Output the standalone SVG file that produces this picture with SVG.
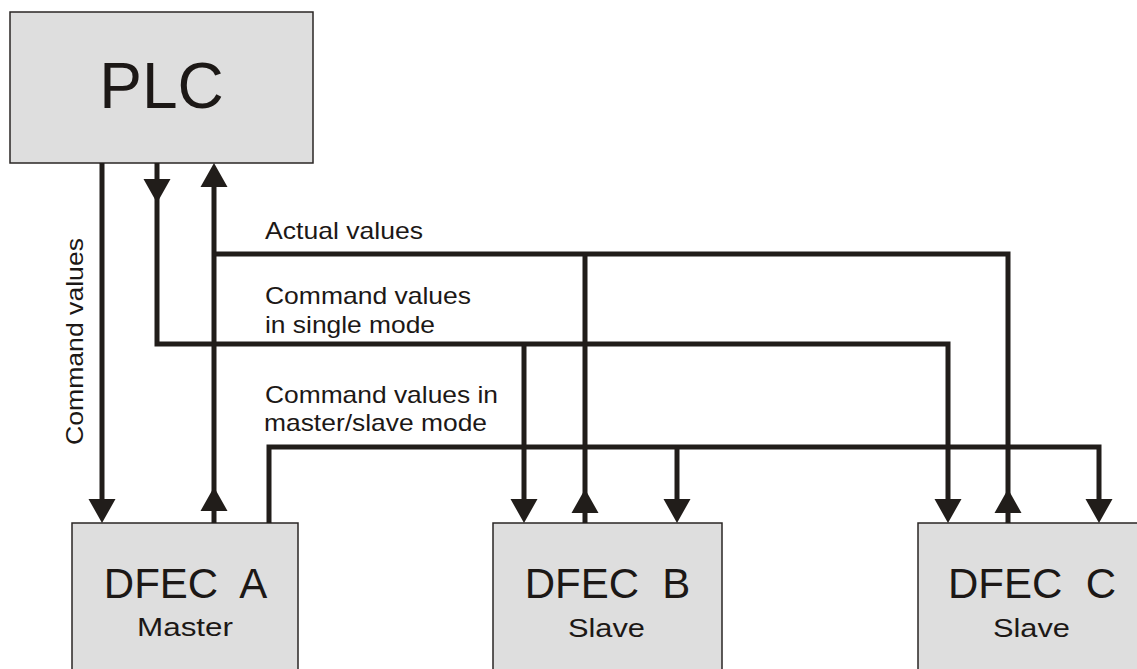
<svg xmlns="http://www.w3.org/2000/svg" xmlns:xlink="http://www.w3.org/1999/xlink" width="1137" height="669" viewBox="0 0 1137 669">
  <style>
    .box { fill: #dedede; stroke: #2a2624; stroke-width: 1.5; }
    .wire { fill: none; stroke: #211d1a; stroke-width: 5; stroke-linejoin: miter; stroke-linecap: butt; }
    .head { fill: #211d1a; }
    .big { font-family: "Liberation Sans", Arial, sans-serif; fill: #1c1816; text-anchor: middle; }
    .lbl { font-family: "Liberation Sans", Arial, sans-serif; fill: #1c1816; font-size: 24px; }
  </style>
  <defs>
    <!-- arrowhead with its tip at the origin, pointing down -->
    <path id="head-down" class="head" d="M-13.5,-24 L13.5,-24 L0,0 Z"/>
    <!-- arrowhead with its tip at the origin, pointing up -->
    <path id="head-up" class="head" d="M-13.5,24 L13.5,24 L0,0 Z"/>
  </defs>

  <g id="plc">
    <rect class="box" x="10" y="12" width="303" height="151"/>
    <text class="big" x="161.5" y="108" font-size="64">PLC</text>
  </g>

  <g id="dfec-a">
    <rect class="box" x="72" y="523" width="226" height="160"/>
    <text class="big" x="185.5" y="598" font-size="42" xml:space="preserve">DFEC  A</text>
    <text class="big" x="185" y="636" font-size="26" textLength="96" lengthAdjust="spacingAndGlyphs">Master</text>
  </g>

  <g id="dfec-b">
    <rect class="box" x="493" y="523" width="229" height="160"/>
    <text class="big" x="607.5" y="598" font-size="42" xml:space="preserve">DFEC  B</text>
    <text class="big" x="606.5" y="637" font-size="26" textLength="77" lengthAdjust="spacingAndGlyphs">Slave</text>
  </g>

  <g id="dfec-c">
    <rect class="box" x="918" y="523" width="228" height="160"/>
    <text class="big" x="1032" y="598" font-size="42" xml:space="preserve">DFEC  C</text>
    <text class="big" x="1031.5" y="637" font-size="26" textLength="77" lengthAdjust="spacingAndGlyphs">Slave</text>
  </g>

  <g id="connectors">
    <!-- command values: PLC to master -->
    <path class="wire" d="M102,163 V500"/>
    <use xlink:href="#head-down" x="102" y="523"/>

    <!-- command values in single mode -->
    <path class="wire" d="M157,163 V344 H948 V500"/>
    <path class="wire" d="M524,344 V500"/>
    <use xlink:href="#head-down" x="157" y="203"/>
    <use xlink:href="#head-down" x="524" y="523"/>
    <use xlink:href="#head-down" x="948" y="523"/>

    <!-- actual values -->
    <path class="wire" d="M214,523 V186"/>
    <path class="wire" d="M214,254 H1008 V523"/>
    <path class="wire" d="M585,254 V523"/>
    <use xlink:href="#head-up" x="214" y="163"/>
    <use xlink:href="#head-up" x="214" y="487"/>
    <use xlink:href="#head-up" x="585" y="489"/>
    <use xlink:href="#head-up" x="1008" y="489"/>

    <!-- command values in master/slave mode -->
    <path class="wire" d="M269,523 V447 H1099 V500"/>
    <path class="wire" d="M677,447 V500"/>
    <use xlink:href="#head-down" x="677" y="523"/>
    <use xlink:href="#head-down" x="1099" y="523"/>
  </g>

  <g id="labels">
    <text class="lbl" x="83" y="445" transform="rotate(-90 83 445)" textLength="207" lengthAdjust="spacingAndGlyphs">Command values</text>
    <text class="lbl" x="265" y="239" textLength="158" lengthAdjust="spacingAndGlyphs">Actual values</text>
    <text class="lbl" x="265" y="304" textLength="206" lengthAdjust="spacingAndGlyphs">Command values</text>
    <text class="lbl" x="265" y="333" textLength="170" lengthAdjust="spacingAndGlyphs">in single mode</text>
    <text class="lbl" x="265" y="403" textLength="233" lengthAdjust="spacingAndGlyphs">Command values in</text>
    <text class="lbl" x="264" y="431" textLength="223" lengthAdjust="spacingAndGlyphs">master/slave mode</text>
  </g>
</svg>
